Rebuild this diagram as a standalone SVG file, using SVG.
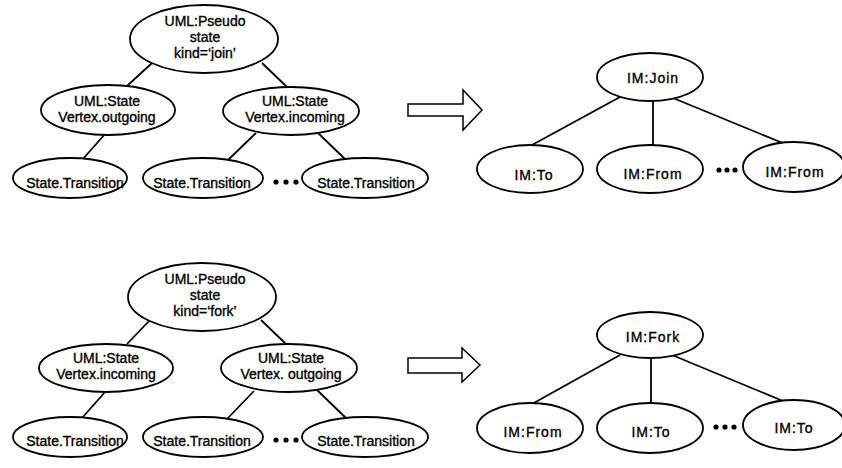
<svg xmlns="http://www.w3.org/2000/svg" width="842" height="468" viewBox="0 0 842 468">
  <style>
    .node ellipse { fill: #ffffff; stroke: #000000; stroke-width: 1.8; }
    .edges line { stroke: #000000; stroke-width: 1.8; }
    text { font-family: "Liberation Sans", Arial, sans-serif; font-size: 14px; fill: #000000; stroke: #000000; stroke-width: 0.35; text-anchor: middle; }
    text.im { letter-spacing: 1px; }
    .dots circle { fill: #000000; }
    .xform { fill: #ffffff; stroke: #000000; stroke-width: 1.5; }
  </style>
  <rect width="842" height="468" fill="#ffffff"/>

  <!-- connectors -->
  <g class="edges" id="edges">
    <!-- join: UML tree -->
    <line x1="152" y1="63" x2="127" y2="86"/>
    <line x1="262" y1="63" x2="287" y2="87"/>
    <line x1="106" y1="133" x2="82" y2="160"/>
    <line x1="256" y1="133" x2="227" y2="161"/>
    <line x1="317" y1="132" x2="347" y2="161"/>
    <!-- join: IM tree -->
    <line x1="620" y1="97" x2="532" y2="145"/>
    <line x1="653" y1="101" x2="653" y2="145"/>
    <line x1="673" y1="98" x2="785" y2="144"/>
    <!-- fork: UML tree -->
    <line x1="150" y1="320" x2="127" y2="344"/>
    <line x1="261" y1="320" x2="287" y2="345"/>
    <line x1="106" y1="391" x2="82" y2="418"/>
    <line x1="254" y1="391" x2="227" y2="419"/>
    <line x1="317" y1="390" x2="347" y2="419"/>
    <!-- fork: IM tree -->
    <line x1="620" y1="355" x2="532" y2="404"/>
    <line x1="651" y1="358" x2="651" y2="403"/>
    <line x1="672" y1="355" x2="783" y2="401"/>
  </g>

  <!-- mapping arrows -->
  <polygon class="xform" points="408,104 463,104 463,90 482,110 463,130 463,116 408,116"/>
  <polygon class="xform" points="408,358 462,358 462,348 480,365 462,382 462,373 408,373"/>

  <!-- join: UML side -->
  <g class="node" id="pseudo-join">
    <ellipse cx="204" cy="39" rx="74" ry="34"/>
    <text x="205" y="26">UML:Pseudo</text>
    <text x="205" y="42">state</text>
    <text x="205" y="58">kind=‘join’</text>
  </g>
  <g class="node" id="vertex-outgoing-join">
    <ellipse cx="108" cy="110" rx="67" ry="25"/>
    <text x="107" y="106">UML:State</text>
    <text x="107" y="122">Vertex.outgoing</text>
  </g>
  <g class="node" id="vertex-incoming-join">
    <ellipse cx="291" cy="111" rx="68" ry="24"/>
    <text x="295" y="106">UML:State</text>
    <text x="295" y="122">Vertex.incoming</text>
  </g>
  <g class="node" id="transition-join-1">
    <ellipse cx="70" cy="178" rx="57" ry="20"/>
    <text x="75" y="188">State.Transition</text>
  </g>
  <g class="node" id="transition-join-2">
    <ellipse cx="203" cy="178" rx="60" ry="20"/>
    <text x="202" y="188">State.Transition</text>
  </g>
  <g class="node" id="transition-join-3">
    <ellipse cx="365" cy="178" rx="63" ry="20"/>
    <text x="366" y="188">State.Transition</text>
  </g>
  <g class="dots">
    <circle cx="276" cy="182" r="2.6"/>
    <circle cx="286" cy="182" r="2.6"/>
    <circle cx="296" cy="182" r="2.6"/>
  </g>

  <!-- join: IM side -->
  <g class="node" id="im-join">
    <ellipse cx="650" cy="77" rx="53" ry="24"/>
    <text class="im" x="653" y="83">IM:Join</text>
  </g>
  <g class="node" id="im-join-to">
    <ellipse cx="530" cy="169" rx="53" ry="24"/>
    <text class="im" x="534" y="180">IM:To</text>
  </g>
  <g class="node" id="im-join-from-1">
    <ellipse cx="650" cy="169" rx="53" ry="24"/>
    <text class="im" x="653" y="179">IM:From</text>
  </g>
  <g class="node" id="im-join-from-2">
    <ellipse cx="794" cy="167" rx="51" ry="25"/>
    <text class="im" x="795" y="177">IM:From</text>
  </g>
  <g class="dots">
    <circle cx="719" cy="170" r="2.6"/>
    <circle cx="727" cy="170" r="2.6"/>
    <circle cx="735" cy="170" r="2.6"/>
  </g>

  <!-- fork: UML side -->
  <g class="node" id="pseudo-fork">
    <ellipse cx="202" cy="297" rx="74" ry="34"/>
    <text x="205" y="284">UML:Pseudo</text>
    <text x="205" y="300">state</text>
    <text x="205" y="316">kind=‘fork’</text>
  </g>
  <g class="node" id="vertex-incoming-fork">
    <ellipse cx="106" cy="368" rx="67" ry="24"/>
    <text x="106" y="363">UML:State</text>
    <text x="106" y="379">Vertex.incoming</text>
  </g>
  <g class="node" id="vertex-outgoing-fork">
    <ellipse cx="289" cy="368" rx="68" ry="24"/>
    <text x="291" y="363">UML:State</text>
    <text x="291" y="379">Vertex. outgoing</text>
  </g>
  <g class="node" id="transition-fork-1">
    <ellipse cx="70" cy="437" rx="57" ry="20"/>
    <text x="75" y="446">State.Transition</text>
  </g>
  <g class="node" id="transition-fork-2">
    <ellipse cx="203" cy="437" rx="60" ry="20"/>
    <text x="202" y="446">State.Transition</text>
  </g>
  <g class="node" id="transition-fork-3">
    <ellipse cx="365" cy="437" rx="63" ry="20"/>
    <text x="366" y="446">State.Transition</text>
  </g>
  <g class="dots">
    <circle cx="276" cy="440" r="2.6"/>
    <circle cx="286" cy="440" r="2.6"/>
    <circle cx="296" cy="440" r="2.6"/>
  </g>

  <!-- fork: IM side -->
  <g class="node" id="im-fork">
    <ellipse cx="650" cy="335" rx="53" ry="23"/>
    <text class="im" x="653" y="342">IM:Fork</text>
  </g>
  <g class="node" id="im-fork-from">
    <ellipse cx="530" cy="428" rx="53" ry="25"/>
    <text class="im" x="533" y="437">IM:From</text>
  </g>
  <g class="node" id="im-fork-to-1">
    <ellipse cx="650" cy="428" rx="53" ry="25"/>
    <text class="im" x="651" y="437">IM:To</text>
  </g>
  <g class="node" id="im-fork-to-2">
    <ellipse cx="794" cy="425" rx="51" ry="25"/>
    <text class="im" x="794" y="433">IM:To</text>
  </g>
  <g class="dots">
    <circle cx="716" cy="427" r="2.6"/>
    <circle cx="725" cy="427" r="2.6"/>
    <circle cx="734" cy="427" r="2.6"/>
  </g>
</svg>
